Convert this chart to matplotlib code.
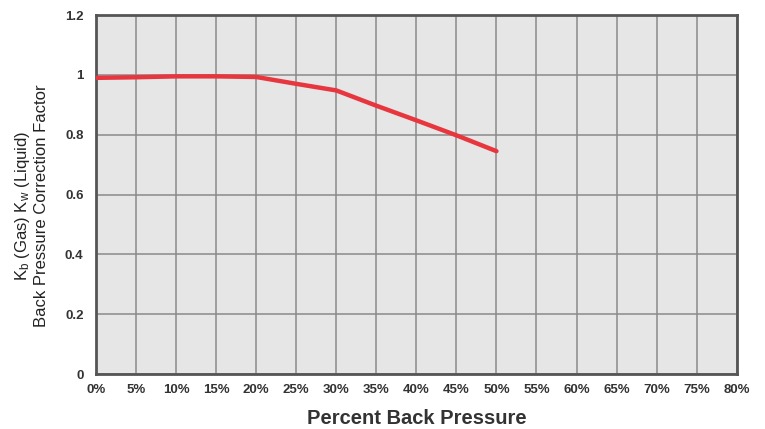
import matplotlib.pyplot as plt
import numpy as np

# Back pressure correction curve
pct_back = [0, 5, 10, 15, 20, 25, 30, 35, 40, 45, 50]
k_factor = [0.99, 0.992, 0.995, 0.995, 0.993, 0.97, 0.948, 0.897, 0.848, 0.798, 0.745]

x_ticks = list(range(0, 81, 5))
x_labels = [f"{v}%" for v in x_ticks]
y_ticks = [0, 0.2, 0.4, 0.6, 0.8, 1.0, 1.2]
y_labels = ["0", "0.2", "0.4", "0.6", "0.8", "1", "1.2"]

plt.rcParams['font.family'] = ['Liberation Sans', 'DejaVu Sans']

fig = plt.figure(figsize=(7.65, 4.29), dpi=100)
ax = fig.add_axes([0.1255, 0.128, 0.8375, 0.837])

ax.set_facecolor('#e6e6e6')
ax.plot(pct_back, k_factor, color='#e8363f', linewidth=3.2, solid_capstyle='round', zorder=3)

ax.set_xlim(0, 80)
ax.set_ylim(0, 1.2)
ax.set_xticks(x_ticks)
ax.set_xticklabels(x_labels)
ax.set_yticks(y_ticks)
ax.set_yticklabels(y_labels)
ax.tick_params(length=0, labelsize=9.5, labelcolor='#333333')
ax.tick_params(axis='x', pad=7)
ax.tick_params(axis='y', pad=9)
for lab in ax.get_xticklabels() + ax.get_yticklabels():
    lab.set_fontweight('bold')

ax.grid(True, color='#8a8a8a', linewidth=1.1)
ax.set_axisbelow(True)
for sp in ax.spines.values():
    sp.set_color('#555555')
    sp.set_linewidth(2)

ax.set_xlabel('Percent Back Pressure', fontsize=14.5, fontweight='bold', color='#333333')
ax.xaxis.set_label_coords(0.5, -0.1393)
ax.xaxis.label.set_va('baseline')

ax.set_ylabel(r'$\mathregular{K_b}$ (Gas) $\mathregular{K_w}$ (Liquid)' + '\nBack Pressure Correction Factor',
              fontsize=12, color='#222222',
              family=['Liberation Sans Narrow', 'Liberation Sans', 'DejaVu Sans'])
ax.yaxis.set_label_coords(-0.101, 0.468)
ax.yaxis.label.set_va('center')

fig.savefig('out.png', dpi=100)
